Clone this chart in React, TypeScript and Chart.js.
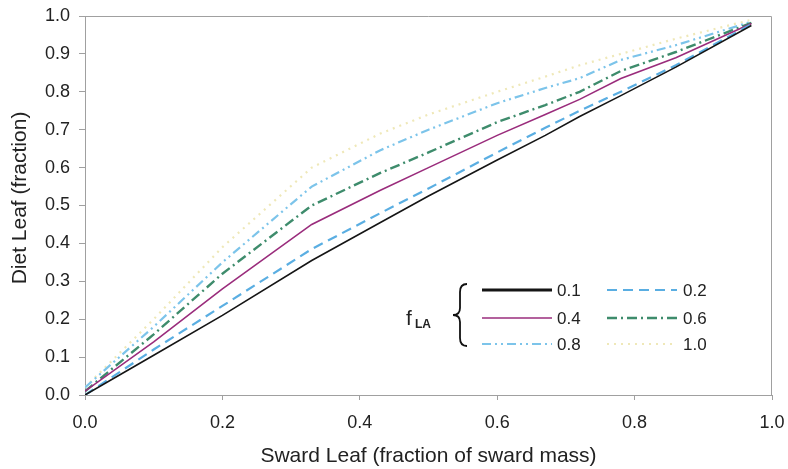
import React, { useEffect, useRef } from "react";
import { Chart, registerables } from "chart.js";

Chart.register(...registerables);

const swardLeaf = [0, 0.1, 0.2, 0.33, 0.43, 0.5, 0.6, 0.67, 0.72, 0.78, 0.86, 0.97];
const fLA01 = [0, 0.105, 0.21, 0.355, 0.455, 0.525, 0.62, 0.685, 0.735, 0.79, 0.865, 0.975];
const fLA02 = [0, 0.12, 0.235, 0.385, 0.48, 0.545, 0.64, 0.705, 0.75, 0.8, 0.87, 0.978];
const fLA04 = [0.01, 0.14, 0.28, 0.45, 0.54, 0.6, 0.685, 0.74, 0.78, 0.835, 0.89, 0.98];
const fLA06 = [0.01, 0.16, 0.32, 0.5, 0.586, 0.64, 0.72, 0.765, 0.8, 0.855, 0.905, 0.982];
const fLA08 = [0.02, 0.18, 0.35, 0.55, 0.646, 0.7, 0.77, 0.81, 0.836, 0.884, 0.923, 0.985];
const fLA10 = [0.02, 0.2, 0.39, 0.6, 0.69, 0.74, 0.8, 0.84, 0.87, 0.9, 0.94, 0.99];

const seriesLabels = ["0.1", "0.2", "0.4", "0.6", "0.8", "1.0"];
const seriesValues = [fLA01, fLA02, fLA04, fLA06, fLA08, fLA10];
const seriesColors = ["#151515", "#5aaee2", "#9a2c7c", "#3e8c6c", "#7cc4ea", "#efe8b8"];
const seriesDashes: number[][] = [[], [10, 6], [], [10, 4, 2, 4], [9, 4, 2, 4, 2, 4], [2, 5]];
const seriesWidths = [1.6, 2.2, 1.6, 2.4, 2.2, 2.2];

const xTicks = [0, 0.2, 0.4, 0.6, 0.8, 1.0];
const yTicks = [0, 0.1, 0.2, 0.3, 0.4, 0.5, 0.6, 0.7, 0.8, 0.9, 1.0];

const xTitle = "Sward Leaf (fraction of sward mass)";
const yTitle = "Diet Leaf (fraction)";

const FONT = "'Liberation Sans', Arial, sans-serif";

export default function App() {
  const ref = useRef<HTMLCanvasElement>(null);

  useEffect(() => {
    document.body.style.margin = "0";
    const canvas = ref.current!;

    const legendPlugin = {
      id: "customLegend",
      afterDatasetsDraw(chart: any) {
        const ctx = chart.ctx as CanvasRenderingContext2D;
        ctx.save();
        // plot border (top & right)
        const ca = chart.chartArea;
        ctx.strokeStyle = "#a0a0a0";
        ctx.lineWidth = 1;
        ctx.beginPath();
        ctx.moveTo(ca.left, ca.top + 0.5);
        ctx.lineTo(ca.right - 0.5, ca.top + 0.5);
        ctx.lineTo(ca.right - 0.5, ca.bottom);
        ctx.stroke();

        // y axis title
        ctx.save();
        ctx.translate(20, 198);
        ctx.rotate(-Math.PI / 2);
        ctx.font = `21px ${FONT}`;
        ctx.fillStyle = "#222";
        ctx.textAlign = "center";
        ctx.textBaseline = "middle";
        ctx.fillText(yTitle, 0, 0);
        ctx.restore();

        // f_LA label
        ctx.fillStyle = "#222";
        ctx.textBaseline = "alphabetic";
        ctx.textAlign = "left";
        ctx.font = `21px ${FONT}`;
        ctx.fillText("f", 406, 325);
        ctx.font = `bold 12px ${FONT}`;
        ctx.fillText("LA", 415, 328);

        // brace
        ctx.strokeStyle = "#111";
        ctx.lineWidth = 1.8;
        ctx.beginPath();
        const bx = 467, top = 284, bot = 346, mid = 315;
        ctx.moveTo(bx, top);
        ctx.quadraticCurveTo(460, top, 460, top + 8);
        ctx.lineTo(460, mid - 7);
        ctx.quadraticCurveTo(460, mid, 453, mid);
        ctx.quadraticCurveTo(460, mid, 460, mid + 7);
        ctx.lineTo(460, bot - 8);
        ctx.quadraticCurveTo(460, bot, bx, bot);
        ctx.stroke();

        const rows = [290, 318, 344];
        const cols = [
          { x0: 482, x1: 552, tx: 557 },
          { x0: 607, x1: 677, tx: 683 },
        ];
        ctx.font = `17px ${FONT}`;
        ctx.textBaseline = "middle";
        seriesLabels.forEach((lab, i) => {
          const r = Math.floor(i / 2);
          const c = cols[i % 2];
          const y = rows[r];
          ctx.save();
          ctx.strokeStyle = seriesColors[i];
          ctx.lineWidth = i === 0 ? 3 : seriesWidths[i];
          ctx.setLineDash(seriesDashes[i]);
          ctx.beginPath();
          ctx.moveTo(c.x0, y);
          ctx.lineTo(c.x1, y);
          ctx.stroke();
          ctx.restore();
          ctx.fillStyle = "#222";
          ctx.fillText(lab, c.tx, y + 1);
        });
        ctx.restore();
      },
    };

    const chart = new Chart(canvas, {
      type: "line",
      data: {
        datasets: seriesLabels.map((lab, i) => ({
          label: lab,
          data: swardLeaf.map((x, j) => ({ x, y: seriesValues[i][j] })),
          borderColor: seriesColors[i],
          borderWidth: seriesWidths[i],
          borderDash: seriesDashes[i],
          pointRadius: 0,
          fill: false,
          tension: 0,
        })),
      },
      options: {
        animation: false,
        responsive: false,
        layout: { padding: { top: 16, right: 16, left: 0, bottom: 0 } },
        plugins: { legend: { display: false }, tooltip: { enabled: false } },
        scales: {
          x: {
            type: "linear",
            min: 0,
            max: 1,
            afterFit: (s: any) => { s.height = 74; s.paddingLeft = 0; s.paddingRight = 0; },
            afterBuildTicks: (s: any) => { s.ticks = xTicks.map((v) => ({ value: v })); },
            ticks: {
              callback: (v: any) => Number(v).toFixed(1),
              font: { size: 18, family: FONT },
              color: "#222",
              padding: 12,
              maxRotation: 0,
            },
            grid: { drawOnChartArea: false, tickLength: 5, color: "#a0a0a0" },
            border: { color: "#a0a0a0" },
            title: {
              display: true,
              text: xTitle,
              font: { size: 21, family: FONT },
              color: "#222",
              padding: { top: 0, bottom: 0 },
            },
          },
          y: {
            type: "linear",
            min: 0,
            max: 1,
            afterFit: (s: any) => { s.width = 85; s.paddingTop = 0; s.paddingBottom = 0; },
            afterBuildTicks: (s: any) => { s.ticks = yTicks.map((v) => ({ value: v })); },
            ticks: {
              callback: (v: any) => Number(v).toFixed(1),
              font: { size: 18, family: FONT },
              color: "#222",
              padding: 9,
            },
            grid: { drawOnChartArea: false, tickLength: 6, color: "#a0a0a0" },
            border: { color: "#a0a0a0" },
          },
        },
      },
      plugins: [legendPlugin],
    });
    return () => chart.destroy();
  }, []);

  return (
    <div style={{ position: "fixed", left: 0, top: 0, width: 788, height: 469, background: "#fff" }}>
      <canvas ref={ref} width={788} height={469} />
    </div>
  );
}
